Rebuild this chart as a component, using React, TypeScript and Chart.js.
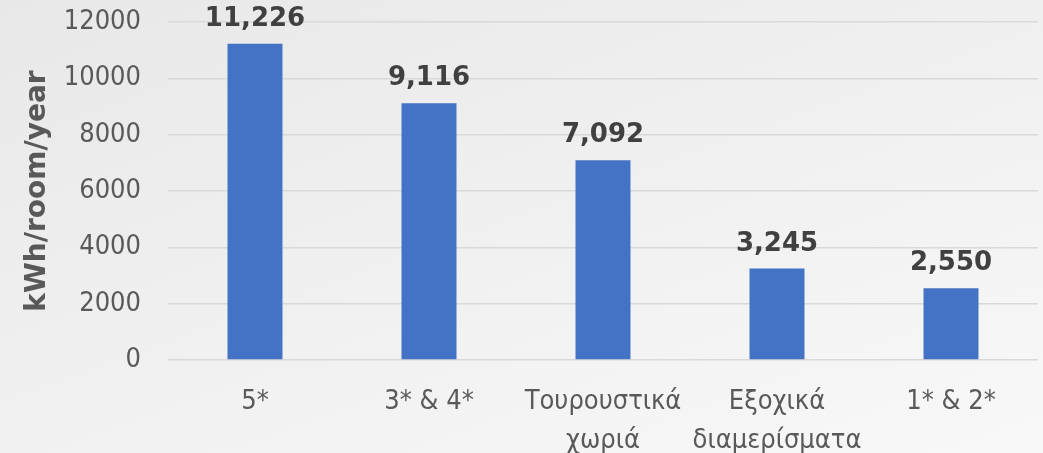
import React, { useEffect, useRef } from "react";
import { Chart, registerables } from "chart.js";

Chart.register(...registerables);

const categories: (string | string[])[] = [
  "5*",
  "3* & 4*",
  ["Τουρουστικά", "χωριά"],
  ["Εξοχικά", "διαμερίσματα"],
  "1* & 2*",
];
const values = [11226, 9116, 7092, 3245, 2550];
const yTicks = [0, 2000, 4000, 6000, 8000, 10000, 12000];
const yTitle = "kWh/room/year";

const FONT = "'DejaVu Sans Condensed', 'DejaVu Sans', sans-serif";
const BOLD_FONT = "'DejaVu Sans', sans-serif";

const labelPlugin = {
  id: "barLabels",
  afterDatasetsDraw(chart: any) {
    const ctx = chart.ctx;
    const meta = chart.getDatasetMeta(0);
    ctx.save();
    ctx.font = `bold 26px ${BOLD_FONT}`;
    ctx.fillStyle = "#404040";
    ctx.textAlign = "center";
    ctx.textBaseline = "alphabetic";
    meta.data.forEach((bar: any, i: number) => {
      ctx.fillText(values[i].toLocaleString("en-US"), bar.x, bar.y - 18);
    });
    ctx.restore();
  },
};

export default function App() {
  const ref = useRef<HTMLCanvasElement>(null);
  useEffect(() => {
    document.body.style.margin = "0";
    const chart = new Chart(ref.current!, {
      type: "bar",
      data: {
        labels: categories,
        datasets: [
          {
            data: values,
            backgroundColor: "#4472C4",
            barPercentage: 1,
            categoryPercentage: 0.316,
          },
        ],
      },
      options: {
        animation: false,
        responsive: false,
        layout: { padding: { top: 22, right: 5, left: 0, bottom: 0 } },
        plugins: { legend: { display: false }, tooltip: { enabled: false } },
        scales: {
          x: {
            grid: { display: false },
            border: { display: false },
            ticks: {
              color: "#595959",
              font: { family: FONT, size: 27, lineHeight: 1.42 },
              padding: 15,
              maxRotation: 0,
              autoSkip: false,
            },
            afterFit: (s: any) => {
              s.height = 93;
            },
          },
          y: {
            min: 0,
            max: 12000,
            afterBuildTicks: (s: any) => {
              s.ticks = yTicks.map((v) => ({ value: v }));
            },
            grid: { color: "#d9d9d9", lineWidth: 1.5, drawTicks: false },
            border: { display: false },
            ticks: {
              color: "#595959",
              font: { family: FONT, size: 27 },
              padding: 27,
              callback: (v: any) => String(v),
            },
            title: {
              display: true,
              text: yTitle,
              color: "#595959",
              font: { family: BOLD_FONT, size: 28, weight: "bold" },
              padding: { top: 21, bottom: 0 },
            },
            afterFit: (s: any) => {
              s.width = 168;
              s.paddingTop = 0;
              s.paddingBottom = 0;
            },
          },
        },
      },
      plugins: [labelPlugin],
    });
    return () => chart.destroy();
  }, []);
  return (
    <div
      style={{
        width: 1043,
        height: 453,
        background: "linear-gradient(160deg, #e8e8e8 0%, #f0f0f0 50%, #f8f8f8 100%)",
      }}
    >
      <canvas ref={ref} width={1043} height={453} />
    </div>
  );
}
